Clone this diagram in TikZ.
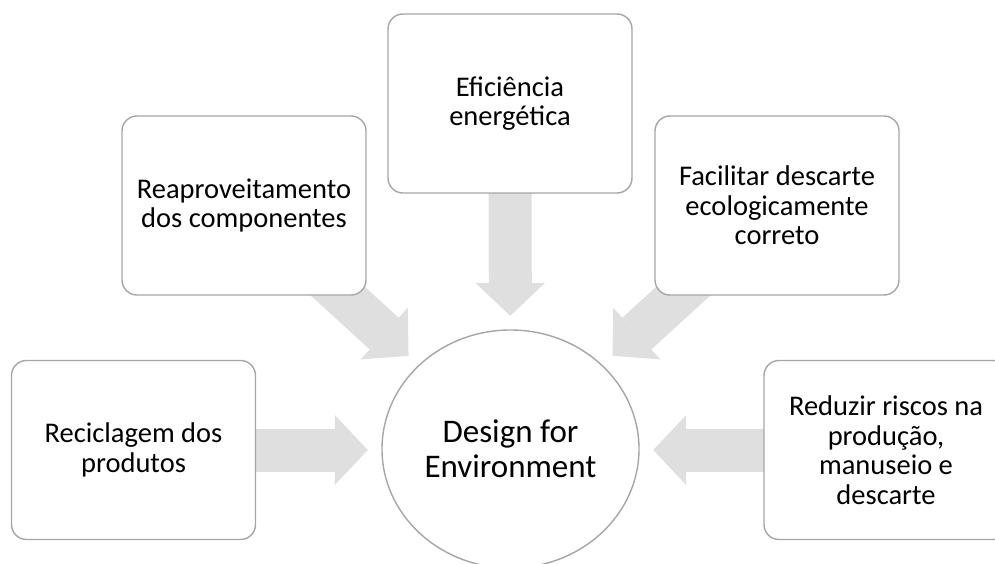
\documentclass[tikz,border=0pt]{standalone}
\usepackage{fontspec}
\setmainfont{Carlito}
\usetikzlibrary{arrows.meta}
\usetikzlibrary{shapes}
\usetikzlibrary{backgrounds}

\definecolor{boxline}{RGB}{166,166,166}
\definecolor{arrowfill}{RGB}{223,223,223}

\begin{document}
\begin{tikzpicture}[x=1pt, y=-1pt,
        box_style/.style={rectangle, rounded corners=15pt, draw=boxline, line width=1.4pt, fill=white, minimum width=244pt, minimum height=179pt, align=center, font=\fontsize{28.5}{29.5}\selectfont},
        center_style/.style={ellipse, draw=boxline, line width=1.4pt, fill=white, minimum width=257pt, minimum height=238pt, inner sep=0pt, align=center, font=\fontsize{33}{35}\selectfont},
        arrow_style/.style={color=arrowfill, line width=43pt, shorten >=13.5pt, -{Triangle[length=33pt 0 0, width=70pt 0 0, line width=0pt]}}]

        \useasboundingbox (0,0) rectangle (995,564);

        \node [center_style](n0) at (510.5,449) {Design for\\Environment};
    
        \node [box_style](n1) at (133.5,450) {Reciclagem dos\\produtos};
    
        \node [box_style](n2) at (244,205.5) {Reaproveitamento\\dos componentes};
    
        \node [box_style](n3) at (510,103.5) {Eficiência\\energética};
    
        \node [box_style](n4) at (777,205.5) {Facilitar descarte\\ecologicamente\\correto};
    
        \node [box_style](n5) at (886,450) {Reduzir riscos na\\produção,\\manuseio e\\descarte};

        % block arrows sit under the boxes
        \begin{scope}[on background layer]
        \draw [arrow_style] (n1.center) edge (n1.center -| n0.west);
    
        \draw [arrow_style] (n2.center) edge (n0);
    
        \draw [arrow_style] (n3.center) edge (n0);
    
        \draw [arrow_style] (n4.center) edge (n0);
    
        \draw [arrow_style] (n5.center) edge (n5.center -| n0.east);
        \end{scope}

        \end{tikzpicture}
\end{document}
